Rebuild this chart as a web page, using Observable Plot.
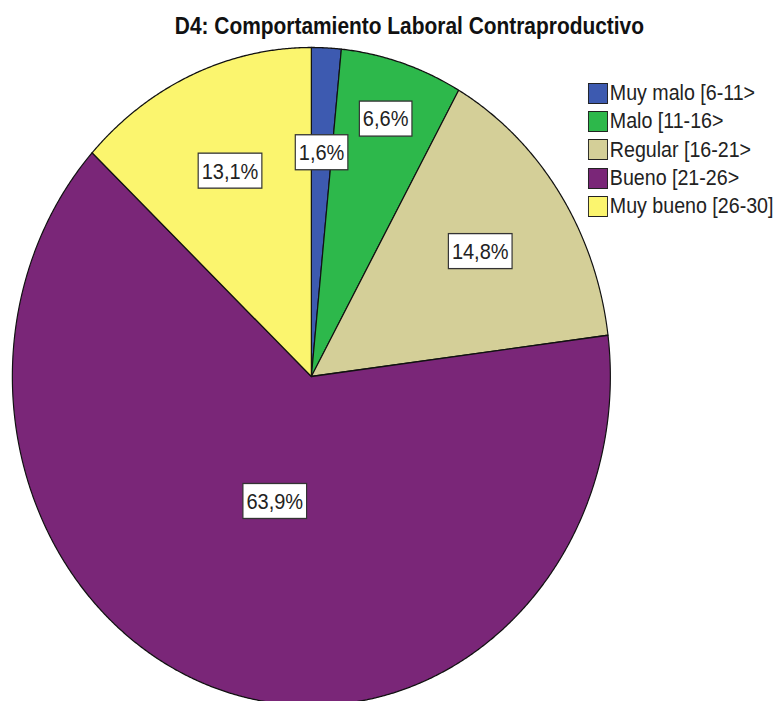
<!DOCTYPE html>
<html>
<head>
<meta charset="utf-8">
<script src="https://cdn.jsdelivr.net/npm/d3@7"></script>
<script src="https://cdn.jsdelivr.net/npm/@observablehq/plot@0.6"></script>
<style>
  html, body { margin: 0; padding: 0; background: #fff; overflow: hidden; }
  #outer { width: 780px; height: 701px; overflow: hidden; position: relative; }
  #wrap { position: absolute; left: 0; top: 0; width: 858px; height: 701px; transform: scaleX(0.9088); transform-origin: 0 0; font-family: "Liberation Sans", Arial, sans-serif; }
  #title { position: absolute; left: 0; width: 901px; top: 15px; line-height: 23px; text-align: center; font-weight: bold; font-size: 23px; color: #111; white-space: nowrap; }
  #legend { position: absolute; left: 647px; top: 79px; }
  .row { display: flex; align-items: center; height: 28.3px; }
  .sw { width: 20px; height: 19px; border: 1px solid #222; box-sizing: content-box; margin-right: 2px; }
  .lab { font-size: 21.6px; color: #222; white-space: nowrap; }
  svg { position: absolute; left: 0; top: 0; }
</style>
</head>
<body>
<div id="outer">
<div id="wrap">
  <div id="title">D4: Comportamiento Laboral Contraproductivo</div>
  <div id="legend"></div>
</div>
</div>
<script>
const categories = ["Muy malo [6-11>", "Malo [11-16>", "Regular [16-21>", "Bueno [21-26>", "Muy bueno [26-30]"];
const percents = [1.6, 6.6, 14.8, 63.9, 13.1];
const labels = ["1,6%", "6,6%", "14,8%", "63,9%", "13,1%"];
const colors = ["#3D5AB0", "#2DB84B", "#D4CF98", "#7A2678", "#FBF56E"];

const S = 0.9088;           // horizontal squash of the whole figure
const FONT = 22;            // label font size
const W = 858, H = 701;
const xRange = [13.1, 671.1], yRange = [705, 47];

const pie = d3.pie().sort(null).value(d => d)(percents);

// slice outlines in unit coordinates (angle clockwise from top)
const slicePts = [];
pie.forEach((p, i) => {
  const n = Math.max(2, Math.ceil((p.endAngle - p.startAngle) / 0.005));
  slicePts.push({cat: categories[i], x: 0, y: 0});
  for (let j = 0; j <= n; j++) {
    const a = p.startAngle + (p.endAngle - p.startAngle) * j / n;
    slicePts.push({cat: categories[i], x: Math.sin(a), y: Math.cos(a)});
  }
});

// label placement with simple outward push to avoid overlapping boxes
const sx = d3.scaleLinear([-1, 1], xRange), sy = d3.scaleLinear([-1, 1], yRange);
const ctx = document.createElement("canvas").getContext("2d");
ctx.font = `${FONT}px "Liberation Sans", Arial, sans-serif`;
const boxH = 35, padX = 3.5 / S;
const placed = [];
const labelPts = pie.map((p, i) => {
  const a = (p.startAngle + p.endAngle) / 2;
  let r = percents[i] > 50 ? 0.4 : 0.68;
  const w = ctx.measureText(labels[i]).width + 2 * padX;
  let box;
  const mk = () => {
    const cx = sx(r * Math.sin(a)), cy = sy(r * Math.cos(a));
    return {x0: cx - w / 2, x1: cx + w / 2, y0: cy - boxH / 2, y1: cy + boxH / 2};
  };
  box = mk();
  const hit = b => placed.some(q => b.x0 < q.x1 + 12 && b.x1 > q.x0 - 12 && b.y0 < q.y1 && b.y1 > q.y0);
  while (hit(box) && r < 0.95) { r += 0.01; box = mk(); }
  placed.push(box);
  return {x: r * Math.sin(a), y: r * Math.cos(a), text: labels[i]};
});

const chart = Plot.plot({
  width: W,
  height: H,
  margin: 0,
  x: {domain: [-1, 1], range: xRange, axis: null},
  y: {domain: [-1, 1], range: yRange, axis: null},
  color: {domain: categories, range: colors},
  style: {background: "transparent", overflow: "visible"},
  marks: [
    Plot.line(slicePts, {x: "x", y: "y", z: "cat", fill: "cat", stroke: "#111", strokeWidth: 1.3, curve: "linear-closed"}),
    Plot.text(labelPts, {x: "x", y: "y", text: "text", fontSize: FONT, fill: "#222", fontFamily: "Liberation Sans, Arial, sans-serif"})
  ]
});

document.getElementById("wrap").appendChild(chart);

// white boxes behind the percentage labels
const svgEl = chart.tagName.toLowerCase() === "svg" ? chart : chart.querySelector("svg");
svgEl.querySelectorAll('g[aria-label="text"] text').forEach(t => {
  const b = t.getBBox();
  const rect = document.createElementNS("http://www.w3.org/2000/svg", "rect");
  const cy = b.y + b.height / 2;
  rect.setAttribute("x", b.x - padX);
  rect.setAttribute("y", cy - boxH / 2);
  rect.setAttribute("width", b.width + 2 * padX);
  rect.setAttribute("height", boxH);
  rect.setAttribute("fill", "#fff");
  rect.setAttribute("stroke", "#333");
  rect.setAttribute("stroke-width", "1.3");
  if (t.getAttribute("transform")) rect.setAttribute("transform", t.getAttribute("transform"));
  t.parentNode.insertBefore(rect, t);
});

const leg = document.getElementById("legend");
categories.forEach((c, i) => {
  const row = document.createElement("div");
  row.className = "row";
  row.innerHTML = `<div class="sw" style="background:${colors[i]}"></div><div class="lab">${c}</div>`;
  leg.appendChild(row);
});
</script>
</body>
</html>
